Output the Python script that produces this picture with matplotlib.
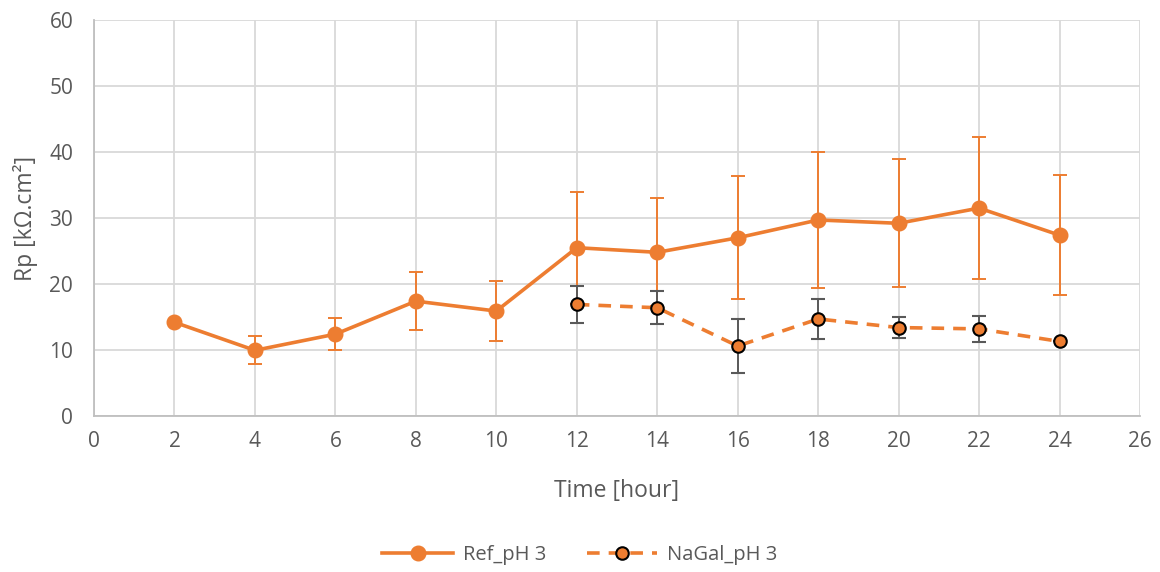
import matplotlib
matplotlib.use("Agg")
import matplotlib.pyplot as plt
from matplotlib.lines import Line2D

plt.rcParams['font.family'] = ['Open Sans', 'DejaVu Sans']

# Polarisation resistance over time
time_ref = [2, 4, 6, 8, 10, 12, 14, 16, 18, 20, 22, 24]
rp_ref = [14.2, 9.95, 12.4, 17.4, 15.9, 25.5, 24.8, 27.0, 29.7, 29.2, 31.5, 27.4]
err_ref = [0.0, 2.1, 2.4, 4.4, 4.6, 8.5, 8.2, 9.3, 10.3, 9.7, 10.7, 9.1]

time_nagal = [12, 14, 16, 18, 20, 22, 24]
rp_nagal = [16.9, 16.4, 10.6, 14.7, 13.4, 13.2, 11.3]
err_nagal = [2.75, 2.5, 4.15, 3.1, 1.65, 2.0, 0.0]

x_ticks = list(range(0, 27, 2))
y_ticks = list(range(0, 61, 10))

orange = '#ED7D31'
grid_c = '#D9D9D9'
text_c = '#595959'
dash = (0, (3.5, 2.5))

fig = plt.figure(figsize=(11.6, 5.72), dpi=100)
ax = fig.add_axes([94/1160, 1 - 416/572, (1140 - 94)/1160, (416 - 20)/572])

ax.errorbar(time_ref, rp_ref, yerr=err_ref, color=orange, lw=2.6,
            marker='o', ms=10.5, mfc=orange, mec=orange,
            ecolor=orange, elinewidth=1.4, capsize=5, capthick=1.4, zorder=3)
ax.errorbar(time_nagal, rp_nagal, yerr=err_nagal, color=orange, lw=2.6,
            ls=dash, marker='o', ms=9, mfc=orange, mec='black', mew=1.5,
            ecolor='#595959', elinewidth=1.4, capsize=5, capthick=1.4, zorder=4)

ax.set_xlim(0, 26)
ax.set_ylim(0, 60)
ax.set_xticks(x_ticks)
ax.set_yticks(y_ticks)
ax.grid(True, color=grid_c, lw=1.3)
ax.set_axisbelow(True)
for s in ['top', 'right']:
    ax.spines[s].set_visible(False)
for s in ['left', 'bottom']:
    ax.spines[s].set_color('#BFBFBF')
    ax.spines[s].set_linewidth(1.3)
ax.tick_params(length=0, labelsize=15, colors=text_c)
ax.tick_params(axis='x', pad=11)
ax.tick_params(axis='y', pad=15)

ax.set_xlabel('Time [hour]', fontsize=16.5, color=text_c, labelpad=19)
ax.set_ylabel('Rp [kΩ.cm²]', fontsize=16.5, color=text_c, labelpad=8)

handles = [
    Line2D([], [], color=orange, lw=2.6, marker='o', ms=10.5, mfc=orange, mec=orange),
    Line2D([], [], color=orange, lw=2.6, ls=dash, marker='o', ms=9, mfc=orange,
           mec='black', mew=1.5),
]
leg = fig.legend(handles, ['Ref_pH 3', 'NaGal_pH 3'], loc='center',
                 bbox_to_anchor=(0.5, 1 - 555/572), ncol=2, frameon=False,
                 fontsize=14.5, handlelength=3.5, handletextpad=0.5, columnspacing=2.0)
for t in leg.get_texts():
    t.set_color(text_c)

fig.savefig('out.png', dpi=100)
